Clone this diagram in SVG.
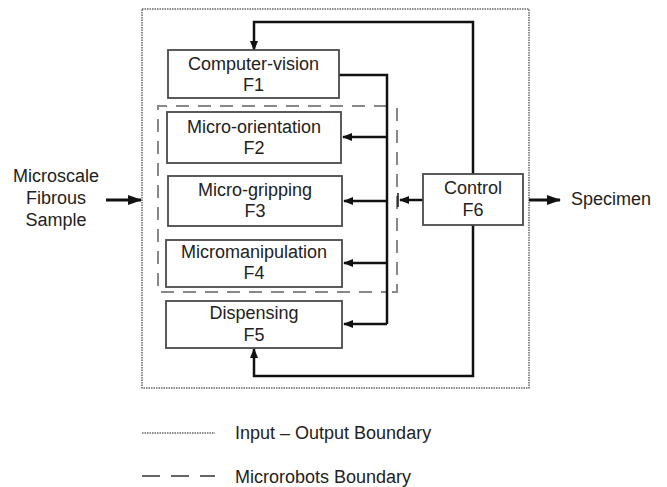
<svg xmlns="http://www.w3.org/2000/svg" width="667" height="487" viewBox="0 0 667 487">
<style>
.box{fill:#fff;stroke:#4a4a4a;stroke-width:1.8}
.t{font-family:"Liberation Sans",Arial,sans-serif;font-size:18px;fill:#222;text-anchor:middle}
.tl{font-family:"Liberation Sans",Arial,sans-serif;font-size:18px;fill:#222}
.w{fill:none;stroke:#111;stroke-width:2.5}
.dot{fill:none;stroke:#666;stroke-width:1.5;stroke-dasharray:1.5 1}
.dash{fill:none;stroke:#888;stroke-width:2;stroke-dasharray:13 9}
</style>
<defs>
<marker id="ah" markerWidth="10" markerHeight="8" refX="9" refY="4" orient="auto" markerUnits="userSpaceOnUse">
<path d="M0,0 L10,4 L0,8 Z" fill="#111"/>
</marker>
<marker id="ahb" markerWidth="14" markerHeight="10" refX="13" refY="5" orient="auto" markerUnits="userSpaceOnUse">
<path d="M0,0 L14,5 L0,10 Z" fill="#111"/>
</marker>
</defs>
<g id="boundaries">
<rect class="dot" x="142" y="9" width="387" height="379"/>
<path class="dash" d="M387,106 H158 V292 H387"/>
<path class="dash" d="M397,108 V292 H387"/>
</g>
<g id="connectors">
<path class="w" d="M339,75 H387 V324"/>
<path class="w" d="M387,137 H343" marker-end="url(#ah)"/>
<path class="w" d="M387,201 H344" marker-end="url(#ah)"/>
<path class="w" d="M387,263 H344" marker-end="url(#ah)"/>
<path class="w" d="M387,324 H344" marker-end="url(#ah)"/>
<path class="w" d="M473,174 V22 H254 V50" marker-end="url(#ah)"/>
<path class="w" d="M473,225 V376 H254 V349" marker-end="url(#ah)"/>
<path class="w" d="M423,200 H400" marker-end="url(#ah)"/>
<path class="w" d="M398,193 V207" style="stroke-width:1.5"/>
<path class="w" d="M106,200 H141" style="stroke-width:3" marker-end="url(#ahb)"/>
<path class="w" d="M529,200 H560" style="stroke-width:3" marker-end="url(#ahb)"/>
</g>
<g id="F1">
<rect class="box" x="168" y="50" width="171" height="48"/>
<text class="t" x="253.5" y="70">Computer-vision</text>
<text class="t" x="253.5" y="91">F1</text>
</g>
<g id="F2">
<rect class="box" x="167" y="112" width="174" height="51"/>
<text class="t" x="254" y="133">Micro-orientation</text>
<text class="t" x="254" y="154">F2</text>
</g>
<g id="F3">
<rect class="box" x="168" y="176" width="174" height="50"/>
<text class="t" x="255" y="196">Micro-gripping</text>
<text class="t" x="255" y="217">F3</text>
</g>
<g id="F4">
<rect class="box" x="166" y="240" width="176" height="47"/>
<text class="t" x="254" y="258">Micromanipulation</text>
<text class="t" x="254" y="279">F4</text>
</g>
<g id="F5">
<rect class="box" x="166" y="301" width="176" height="47"/>
<text class="t" x="254" y="319">Dispensing</text>
<text class="t" x="254" y="341">F5</text>
</g>
<g id="F6">
<rect class="box" x="423" y="174" width="100" height="51"/>
<text class="t" x="473" y="194">Control</text>
<text class="t" x="473" y="216">F6</text>
</g>
<g id="input">
<text class="t" x="56" y="182">Microscale</text>
<text class="t" x="56" y="204">Fibrous</text>
<text class="t" x="56" y="226">Sample</text>
</g>
<g id="output">
<text class="tl" x="571" y="205">Specimen</text>
</g>
<g id="legend">
<path class="dot" d="M142,433 H215"/>
<text class="tl" x="235" y="439">Input – Output Boundary</text>
<path class="dash" d="M142,476 H215" style="stroke:#666;stroke-dasharray:18 11"/>
<text class="tl" x="235" y="483">Microrobots Boundary</text>
</g>
</svg>
